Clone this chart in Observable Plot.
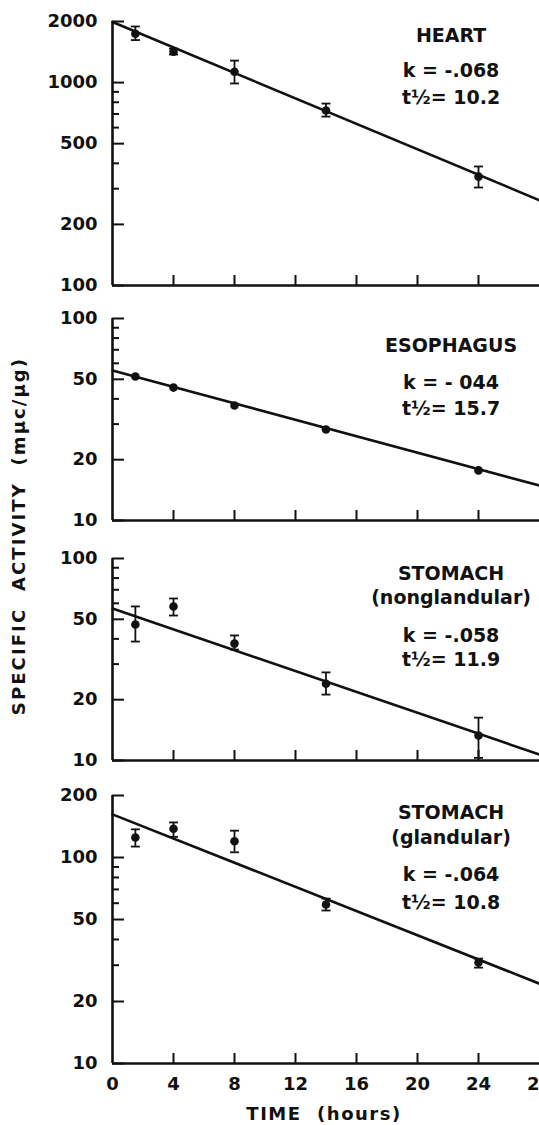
<!DOCTYPE html>
<html>
<head>
<meta charset="utf-8">
<script src="https://cdn.jsdelivr.net/npm/d3@7"></script>
<script src="https://cdn.jsdelivr.net/npm/@observablehq/plot@0.6"></script>
<style>
  html, body { margin: 0; padding: 0; background: #fff; }
  #wrap { position: relative; width: 539px; height: 1125px; overflow: hidden; background: #fff;
          font-family: "DejaVu Sans", sans-serif; font-weight: bold; color: #111; }
  .panel { position: absolute; left: 0; z-index: 1; }
  #ylabel { position: absolute; left: 18px; top: 536px; white-space: nowrap; font-size: 18px; letter-spacing: 2.1px;
            transform: translate(-50%, -50%) rotate(-90deg); z-index: 5; }
  #xlabel { position: absolute; left: 324px; top: 1113px; white-space: nowrap; font-size: 18px; letter-spacing: 1.5px;
            transform: translate(-50%, -50%); z-index: 5; }
</style>
</head>
<body>
<div id="wrap">
  <div id="ylabel">SPECIFIC&nbsp; ACTIVITY&nbsp; (mμc/μg)</div>
  <div id="xlabel">TIME&nbsp; (hours)</div>
</div>
<script>
// ---------- data ----------
const hours = [1.5, 4, 8, 14, 24];
const xTicks = [4, 8, 12, 16, 20, 24];
const xTickLabels = [0, 4, 8, 12, 16, 20, 24, 28];

// HEART
const heartMean = [1740, 1420, 1130, 728, 344];
const heartLo   = [1620, 1375, 990, 680, 304];
const heartHi   = [1890, 1470, 1283, 788, 386];
const heartFitT = [0, 28];
const heartFitV = [1990, 263];
const heartMajor = [100, 200, 500, 1000, 2000];
const heartMinor = [300, 400, 600, 700, 800, 900];
const heartText = ["HEART", "k = -.068", "t½= 10.2"];

// ESOPHAGUS
const esoMean = [51.6, 45.5, 37.1, 28.2, 17.7];
const esoFitT = [0, 28];
const esoFitV = [55.3, 14.9];
const esoMajor = [10, 20, 50, 100];
const esoMinor = [30, 40, 60, 70, 80, 90];
const esoText = ["ESOPHAGUS", "k = - 044", "t½= 15.7"];

// STOMACH (nonglandular)
const ngMean = [47.1, 57.9, 37.9, 24.0, 13.3];
const ngLo   = [38.8, 52.2, 35.4, 21.2, 10.3];
const ngHi   = [57.9, 63.4, 41.6, 27.3, 16.3];
const ngFitT = [0, 28];
const ngFitV = [56.5, 10.7];
const ngMajor = [10, 20, 50, 100];
const ngMinor = [30, 40, 60, 70, 80, 90];
const ngText = ["STOMACH", "(nonglandular)", "k = -.058", "t½= 11.9"];

// STOMACH (glandular)
const glMean = [125, 138, 120, 59.1, 30.9];
const glLo   = [113, 126, 106, 55.3, 29.2];
const glHi   = [137, 148, 135, 63.2, 32.3];
const glFitT = [0, 28];
const glFitV = [162, 24.4];
const glMajor = [10, 20, 50, 100, 200];
const glMinor = [30, 40, 60, 70, 80, 90];
const glText = ["STOMACH", "(glandular)", "k = -.064", "t½= 10.8"];

// ---------- helpers ----------
const capSymbol = {
  draw(context, size) {
    const r = Math.sqrt(size / Math.PI);
    context.moveTo(-r, 0);
    context.lineTo(r, 0);
  }
};

function rows(mean, lo, hi) {
  return hours.map((t, i) => ({t, v: mean[i], lo: lo ? lo[i] : null, hi: hi ? hi[i] : null}));
}
function fit(T, V) { return T.map((t, i) => ({t, v: V[i]})); }

function panel({top, height, marginTop, marginBottom, domain, major, minor, pts, fitPts, labels, labelY, hasErr, bottom}) {
  const marks = [
    Plot.ruleX([0], {strokeWidth: 2.6, stroke: "#111"}),
    Plot.ruleY([domain[0]], {strokeWidth: 2.6, stroke: "#111"}),
    Plot.axisY(major, {tickSize: -12, strokeWidth: 2, tickFormat: () => "", label: null}),
    Plot.axisY(minor, {tickSize: -7, strokeWidth: 2, tickFormat: () => "", label: null}),
    Plot.axisY(major, {tickSize: 0, tickPadding: 15, tickFormat: d => String(d), label: null, fontSize: 18, fontWeight: "bold"}),
    Plot.axisX(xTicks, {tickSize: -10, strokeWidth: 2, tickFormat: () => "", label: null}),
    Plot.line(fitPts, {x: "t", y: "v", stroke: "#111", strokeWidth: 2.6}),
  ];
  if (hasErr) {
    marks.push(
      Plot.ruleX(pts, {x: "t", y1: "lo", y2: "hi", stroke: "#111", strokeWidth: 1.8}),
      Plot.dot(pts, {x: "t", y: "lo", symbol: capSymbol, r: 4.5, stroke: "#111", strokeWidth: 1.8, fill: "none"}),
      Plot.dot(pts, {x: "t", y: "hi", symbol: capSymbol, r: 4.5, stroke: "#111", strokeWidth: 1.8, fill: "none"})
    );
  }
  marks.push(Plot.dot(pts, {x: "t", y: "v", r: 4.3, fill: "#111", stroke: "none"}));
  marks.push(Plot.text(labels.map((s, i) => ({s, y: labelY[i]})), {
    x: 22.2, y: "y", text: "s", fontSize: 19, fontWeight: "bold", fill: "#111", letterSpacing: 1.2
  }));
  if (bottom) {
    marks.push(Plot.axisX(xTickLabels, {tickSize: 0, tickPadding: 14, label: null, fontSize: 18, fontWeight: "bold"}));
  } else {
    marks.push(Plot.axisX([], {label: null}));
  }
  const chart = Plot.plot({
    width: 539,
    height,
    marginLeft: 112,
    marginRight: 0,
    marginTop,
    marginBottom,
    style: {fontFamily: "DejaVu Sans", fontWeight: "bold", fontSize: "18px", color: "#111", background: "transparent", overflow: "hidden"},
    x: {domain: [0, 28]},
    y: {type: "log", domain},
    marks
  });
  chart.classList.add("panel");
  chart.style.top = top + "px";
  document.getElementById("wrap").appendChild(chart);
}

panel({top: 0, height: 296, marginTop: 21, marginBottom: 11, domain: [100, 2000],
  major: heartMajor, minor: heartMinor, pts: rows(heartMean, heartLo, heartHi), fitPts: fit(heartFitT, heartFitV),
  labels: heartText, labelY: [1705, 1146, 844], hasErr: true});

panel({top: 296, height: 240, marginTop: 22, marginBottom: 16, domain: [10, 100],
  major: esoMajor, minor: esoMinor, pts: rows(esoMean), fitPts: fit(esoFitT, esoFitV),
  labels: esoText, labelY: [73.5, 48.2, 35.8], hasErr: false});

panel({top: 536, height: 240, marginTop: 22, marginBottom: 16, domain: [10, 100],
  major: ngMajor, minor: ngMinor, pts: rows(ngMean, ngLo, ngHi), fitPts: fit(ngFitT, ngFitV),
  labels: ngText, labelY: [84.3, 64.1, 41.6, 31.3], hasErr: true});

panel({top: 776, height: 349, marginTop: 19, marginBottom: 62, domain: [10, 200],
  major: glMajor, minor: glMinor, pts: rows(glMean, glLo, glHi), fitPts: fit(glFitT, glFitV),
  labels: glText, labelY: [164, 125, 82.7, 60.5], hasErr: true, bottom: true});
</script>
</body>
</html>
